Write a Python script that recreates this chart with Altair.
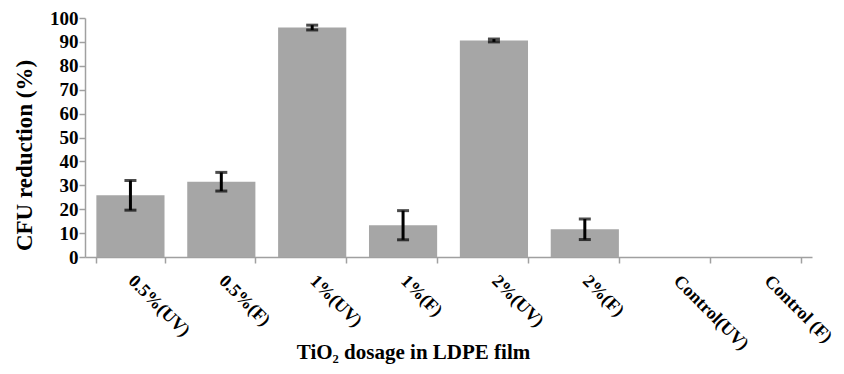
import altair as alt
import pandas as pd

categories = ["0.5%(UV)", "0.5%(F)", "1%(UV)", "1%(F)", "2%(UV)", "2%(F)", "Control(UV)", "Control (F)"]
values = [25.8, 31.5, 96.0, 13.3, 90.6, 11.6, 0.0, 0.0]
errors = [6.2, 3.9, 1.0, 6.1, 0.6, 4.3, 0.0, 0.0]
y_ticks = [0, 10, 20, 30, 40, 50, 60, 70, 80, 90, 100]

df = pd.DataFrame({"cat": categories, "val": values, "err": errors})
df["lo"] = df["val"] - df["err"]
df["hi"] = df["val"] + df["err"]
edf = df[df["err"] > 0]

FONT = "Liberation Serif"
AX = "#A0A0A0"

x_axis = alt.Axis(title="TiO₂ dosage in LDPE film", labelAngle=45, labelAlign="left",
                  labelBaseline="middle", labelPadding=15, tickBand="extent",
                  tickSize=6, titleX=328, titleY=101, titleAnchor="middle", titleAlign="center",
                  titleBaseline="alphabetic", labelOverlap=False)
y_axis = alt.Axis(title="CFU reduction (%)", values=y_ticks, grid=False,
                  tickSize=6, labelPadding=1, titlePadding=13, labelOverlap=False,
                  titleY=137)
xs = alt.Scale(paddingInner=0.25, paddingOuter=0.125)
ys = alt.Scale(domain=[0, 100])

def X():
    return alt.X("cat:N", sort=categories, scale=xs, axis=x_axis)

bars = alt.Chart(df).mark_bar(color="#A6A6A6").encode(
    x=X(), y=alt.Y("val:Q", scale=ys, axis=y_axis))
rules = alt.Chart(edf).mark_rule(color="black", strokeWidth=3).encode(
    x=X(), y=alt.Y("lo:Q", scale=ys, axis=y_axis), y2="hi:Q")
caps_lo = alt.Chart(edf).mark_tick(color="black", thickness=3, size=12).encode(
    x=X(), y=alt.Y("lo:Q", scale=ys, axis=y_axis))
caps_hi = alt.Chart(edf).mark_tick(color="black", thickness=3, size=12).encode(
    x=X(), y=alt.Y("hi:Q", scale=ys, axis=y_axis))

chart = (bars + rules + caps_lo + caps_hi).properties(
    width=727, height=239,
    autosize=alt.AutoSizeParams(type="none"),
    padding={"left": 77, "top": 10, "right": 24, "bottom": 109},
).configure_view(stroke=None).configure_axis(
    labelFont=FONT, titleFont=FONT, labelFontWeight="bold", titleFontWeight="bold",
    labelColor="black", titleColor="black", labelFontSize=19, titleFontSize=23,
    domainColor=AX, tickColor=AX, domainWidth=1.5, tickWidth=1.5,
).configure_axisX(labelFontSize=18, titleFontSize=21)

chart.save("out.html", embed_options={"renderer": "svg", "actions": False})
